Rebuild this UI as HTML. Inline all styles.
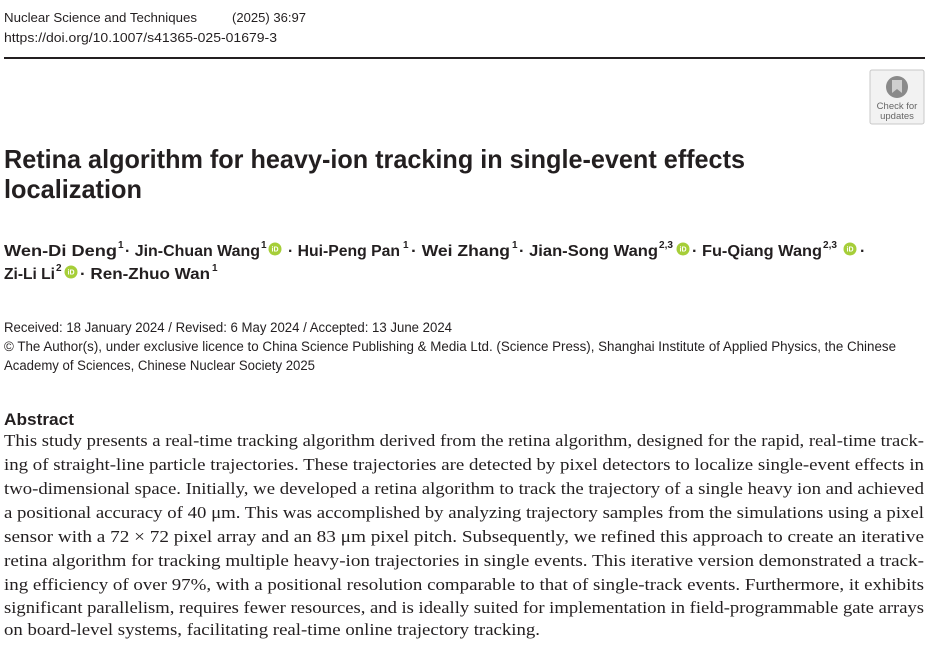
<!DOCTYPE html>
<html><head><meta charset="utf-8"><style>
html,body{margin:0;padding:0;background:#fff}
svg{display:block}
.s{font-family:"Liberation Sans",sans-serif;fill:#231f20}
.r{font-family:"Liberation Serif",serif;fill:#231f20;font-size:16.5px}
</style></head><body>
<svg width="929" height="650" viewBox="0 0 929 650" xmlns="http://www.w3.org/2000/svg">
<g class="s" font-size="13">
<text x="4" y="22" textLength="193" lengthAdjust="spacingAndGlyphs">Nuclear Science and Techniques</text>
<text x="232" y="22" textLength="74" lengthAdjust="spacingAndGlyphs">(2025) 36:97</text>
<text x="4" y="42" textLength="273" lengthAdjust="spacingAndGlyphs">https://doi.org/10.1007/s41365-025-01679-3</text>
</g>
<rect x="4" y="57" width="921" height="2" fill="#231f20"/>
<g>
<rect x="870" y="70" width="54" height="54" rx="2" fill="#f2f2f2" stroke="#c8c8c8"/>
<circle cx="897" cy="87" r="11" fill="#8a8a8a"/>
<path d="M892 80 h10 v13 l-5 -4 l-5 4z" fill="#cfcfcf"/>
<text x="897" y="109" font-family="Liberation Sans,sans-serif" font-size="9.5" fill="#666" text-anchor="middle">Check for</text>
<text x="897" y="119" font-family="Liberation Sans,sans-serif" font-size="9.5" fill="#666" text-anchor="middle">updates</text>
</g>
<g class="s" font-size="26" font-weight="bold">
<text x="4" y="168" textLength="741" lengthAdjust="spacingAndGlyphs">Retina algorithm for heavy-ion tracking in single-event effects</text>
<text x="4" y="198" textLength="138" lengthAdjust="spacingAndGlyphs">localization</text>
</g>
<g class="s" font-size="16" font-weight="bold">
<text x="4" y="256" textLength="113" lengthAdjust="spacingAndGlyphs">Wen-Di Deng</text><text x="118" y="248" font-size="10">1</text>
<text x="125" y="256" textLength="135" lengthAdjust="spacingAndGlyphs">· Jin-Chuan Wang</text><text x="261" y="248" font-size="10">1</text>
<text x="288" y="256" textLength="112" lengthAdjust="spacingAndGlyphs">· Hui-Peng Pan</text><text x="403" y="248" font-size="10">1</text>
<text x="411" y="256" textLength="99" lengthAdjust="spacingAndGlyphs">· Wei Zhang</text><text x="512" y="248" font-size="10">1</text>
<text x="519" y="256" textLength="139" lengthAdjust="spacingAndGlyphs">· Jian-Song Wang</text><text x="659" y="248" font-size="10" textLength="14" lengthAdjust="spacingAndGlyphs">2,3</text>
<text x="692" y="256" textLength="130" lengthAdjust="spacingAndGlyphs">· Fu-Qiang Wang</text><text x="823" y="248" font-size="10" textLength="14" lengthAdjust="spacingAndGlyphs">2,3</text>
<text x="860" y="256">·</text>
<text x="4" y="279" textLength="51" lengthAdjust="spacingAndGlyphs">Zi-Li Li</text><text x="56" y="271" font-size="10">2</text>
<text x="80" y="279" textLength="130" lengthAdjust="spacingAndGlyphs">· Ren-Zhuo Wan</text><text x="212" y="271" font-size="10">1</text>
</g>
<g fill="#a6ce39">
<circle cx="275" cy="249" r="6.5"/><circle cx="683" cy="249" r="6.5"/><circle cx="850" cy="249" r="6.5"/><circle cx="71" cy="272" r="6.5"/>
</g>
<g fill="#fff" font-family="Liberation Sans,sans-serif" font-size="7" font-weight="bold" text-anchor="middle">
<text x="275" y="251.5">iD</text><text x="683" y="251.5">iD</text><text x="850" y="251.5">iD</text><text x="71" y="274.5">iD</text>
</g>
<g class="s" font-size="13.5">
<text x="4" y="332" textLength="448" lengthAdjust="spacingAndGlyphs">Received: 18 January 2024 / Revised: 6 May 2024 / Accepted: 13 June 2024</text>
<text x="4" y="351" textLength="892" lengthAdjust="spacingAndGlyphs">© The Author(s), under exclusive licence to China Science Publishing &amp; Media Ltd. (Science Press), Shanghai Institute of Applied Physics, the Chinese</text>
<text x="4" y="370" textLength="311" lengthAdjust="spacingAndGlyphs">Academy of Sciences, Chinese Nuclear Society 2025</text>
</g>
<text class="s" x="4" y="425" font-size="17" font-weight="bold" textLength="70" lengthAdjust="spacingAndGlyphs">Abstract</text>
<g class="r">
<text x="4" y="446" textLength="920" lengthAdjust="spacingAndGlyphs">This study presents a real-time tracking algorithm derived from the retina algorithm, designed for the rapid, real-time track-</text>
<text x="4" y="470" textLength="920" lengthAdjust="spacingAndGlyphs">ing of straight-line particle trajectories. These trajectories are detected by pixel detectors to localize single-event effects in</text>
<text x="4" y="494" textLength="920" lengthAdjust="spacingAndGlyphs">two-dimensional space. Initially, we developed a retina algorithm to track the trajectory of a single heavy ion and achieved</text>
<text x="4" y="518" textLength="920" lengthAdjust="spacingAndGlyphs">a positional accuracy of 40 μm. This was accomplished by analyzing trajectory samples from the simulations using a pixel</text>
<text x="4" y="542" textLength="920" lengthAdjust="spacingAndGlyphs">sensor with a 72 × 72 pixel array and an 83 μm pixel pitch. Subsequently, we refined this approach to create an iterative</text>
<text x="4" y="566" textLength="920" lengthAdjust="spacingAndGlyphs">retina algorithm for tracking multiple heavy-ion trajectories in single events. This iterative version demonstrated a track-</text>
<text x="4" y="590" textLength="920" lengthAdjust="spacingAndGlyphs">ing efficiency of over 97%, with a positional resolution comparable to that of single-track events. Furthermore, it exhibits</text>
<text x="4" y="613" textLength="920" lengthAdjust="spacingAndGlyphs">significant parallelism, requires fewer resources, and is ideally suited for implementation in field-programmable gate arrays</text>
<text x="4" y="635" textLength="536" lengthAdjust="spacingAndGlyphs">on board-level systems, facilitating real-time online trajectory tracking.</text>
</g>
</svg>
</body></html>
